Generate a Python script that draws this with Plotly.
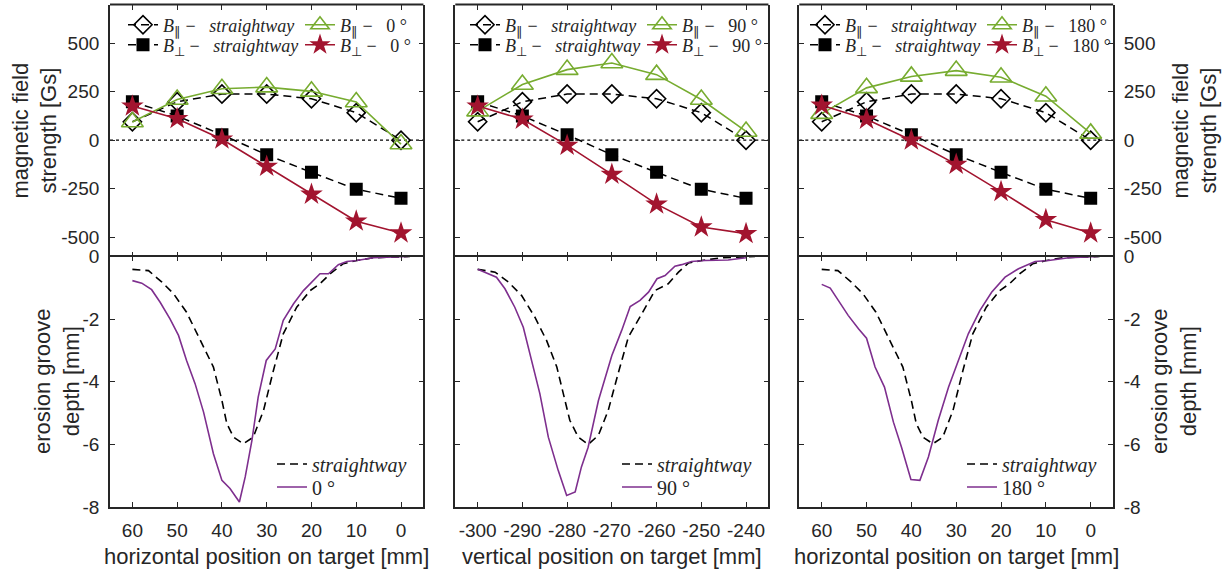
import plotly.graph_objects as go

W, H = 1224, 572

# ---------------- data ----------------
pos_horizontal = [60, 50, 40, 30, 20, 10, 0]
pos_vertical = [-300, -290, -280, -270, -260, -250, -240]

bpar_straight = [95, 198, 238, 238, 214, 142, 0]
bperp_straight = [198, 125, 28, -75, -166, -253, -300]

bpar_0 = [94, 210, 265, 274, 252, 197, -20]
bperp_0 = [176, 111, 5, -135, -279, -418, -479]

bpar_90 = [150, 287, 364, 398, 338, 210, 45]
bperp_90 = [176, 108, -27, -176, -330, -448, -482]

bpar_180 = [137, 270, 329, 359, 325, 227, 35]
bperp_180 = [180, 108, 0, -125, -265, -410, -479]

# erosion groove depth (horizontal scans)
pos_sw_h = [60, 56.4, 53.4, 50.8, 47.9, 44.9, 41.9, 40.0, 38.9, 37.4, 35.2, 33.0, 30.7,
            28.5, 26.3, 23.3, 20.3, 18.1, 15.8, 12.9, 9.9, 6.2, 0, -2]
depth_sw_h = [-0.41, -0.45, -0.82, -1.19, -1.78, -2.68, -3.53, -4.6, -5.34, -5.77, -5.98,
              -5.77, -4.91, -3.64, -2.47, -1.62, -1.09, -0.87, -0.55, -0.23, -0.13, -0.04, 0, 0]

# erosion groove depth (vertical scan)
pos_sw_v = [-300, -296.1, -293.1, -290.2, -287.2, -284.6, -282.3, -280.8, -279.4, -277.5,
            -275.3, -273.0, -270.8, -268.6, -266.3, -263.3, -260.4, -257.4, -255.1, -252.9,
            -249.9, -245.5, -240, -238]
depth_sw_v = [-0.41, -0.5, -0.82, -1.24, -1.94, -2.68, -3.53, -4.38, -5.23, -5.77, -6.0,
              -5.71, -4.91, -3.74, -2.57, -1.83, -1.09, -0.87, -0.5, -0.21, -0.13, -0.04, 0, 0]

pos_0 = [60, 57.9, 55.7, 53.8, 51.6, 49.7, 47.9, 46.0, 44.1, 41.9, 40.0, 38.2, 36.1, 34.8,
         33.3, 31.9, 30.1, 28.1, 26.3, 24.0, 21.8, 19.6, 18.1, 16.2, 14.0, 12.1, 9.9, 6.2, 0, -1.6]
depth_0 = [-0.77, -0.85, -1.06, -1.46, -1.99, -2.52, -3.32, -4.06, -4.97, -6.30, -7.15, -7.41,
           -7.84, -7.04, -5.87, -4.49, -3.32, -2.95, -2.04, -1.51, -1.09, -0.77, -0.55, -0.55,
           -0.26, -0.16, -0.13, -0.04, 0, 0]

pos_90 = [-300, -298.4, -295.8, -293.9, -291.7, -289.8, -288.0, -286.1, -284.2, -282.0,
          -280.1, -278.2, -276.8, -275.3, -273.0, -270.0, -267.8, -265.9, -263.7, -261.8,
          -259.9, -258.1, -255.9, -254.4, -252.2, -249.2, -244.0, -240]
depth_90 = [-0.41, -0.5, -0.66, -1.03, -1.62, -2.26, -3.32, -4.38, -5.77, -6.83, -7.63, -7.52,
            -6.72, -6.09, -4.60, -3.16, -2.36, -1.60, -1.40, -1.14, -0.71, -0.61, -0.31, -0.26,
            -0.16, -0.13, -0.11, -0.04]

pos_180 = [60, 58.1, 56.3, 54.1, 51.8, 50.0, 48.1, 46.0, 44.0, 42.2, 40.1, 38.1, 36.2, 34.0,
           31.7, 29.5, 27.3, 24.7, 22.1, 19.1, 16.1, 12.4, 9.4, 4.9, 0, -1.7]
depth_180 = [-0.89, -1.01, -1.40, -1.88, -2.31, -2.61, -3.53, -4.17, -5.29, -6.09, -7.12, -7.15,
             -6.40, -5.23, -4.17, -3.32, -2.47, -1.72, -1.14, -0.66, -0.39, -0.16, -0.13, -0.04, 0, 0]

angle_labels = ["0", "90", "180"]
xtick_h = [60, 50, 40, 30, 20, 10, 0]
xtick_h_text = ["60", "50", "40", "30", "20", "10", "0"]
xtick_v = [-300, -290, -280, -270, -260, -250, -240]
xtick_v_text = ["-300", "-290", "-280", "-270", "-260", "-250", "-240"]
ytick_b = [-500, -250, 0, 250, 500]
ytick_b_text = ["-500", "-250", "0", "250", "500"]
ytick_d = [-8, -6, -4, -2, 0]
ytick_d_text = ["-8", "-6", "-4", "-2", "0"]

# ---------------- style ----------------
AX = "#262626"
GREEN = "#77AC30"
RED = "#A2142F"
PURPLE = "#7E2F8E"
SANS = "Liberation Sans, Arial, sans-serif"
SERIF = "Liberation Serif, Times New Roman, serif"
NB = "\u00a0"
LW = 1.8

panel_x = [(110, 423.4), (455.3, 768.4), (799.3, 1113.1)]
top_px = (4.5, 256.5)
bot_px = (256.5, 507)


def xd(a, b):
    return [a / W, b / W]


def yd(a, b):
    return [1 - b / H, 1 - a / H]


fig = go.Figure()
legends = {}
counter = [0]


def new_legend(x_px, y_px, size):
    counter[0] += 1
    name = "legend" if counter[0] == 1 else f"legend{counter[0]}"
    legends[name] = dict(
        x=x_px / W, y=1 - y_px / H, xanchor="left", yanchor="middle",
        bgcolor="rgba(0,0,0,0)", borderwidth=0, itemwidth=30,
        font=dict(family=SERIF, size=size, color=AX), tracegroupgap=0,
    )
    return name


B_PAR = f"<i>B</i><sub>∥</sub>{NB}−{NB}{NB}{NB}"
B_PERP = f"<i>B</i><sub>⊥</sub>{NB}−{NB}{NB}{NB}"

top_data = [
    (pos_horizontal, bpar_0, bperp_0),
    (pos_vertical, bpar_90, bperp_90),
    (pos_horizontal, bpar_180, bperp_180),
]
col1_x = [123, 465, 805]
col2_x = [300, 642, 982]
row_y = [25, 45]

for i, (pos, bpar, bperp) in enumerate(top_data):
    xa = "x" if i == 0 else f"x{i + 1}"
    ya = "y" if i == 0 else f"y{i + 1}"
    ang = angle_labels[i]
    fig.add_shape(type="line", xref=f"{xa} domain", yref=ya, x0=0, x1=1, y0=0, y1=0,
                  line=dict(color="black", width=1.2, dash="dot"), layer="below")
    # top border of the upper panel (the shared boundary comes from the lower panel)
    fig.add_shape(type="line", xref=f"{xa} domain", yref=f"{ya} domain", x0=0, x1=1,
                  y0=1, y1=1, line=dict(color=AX, width=LW), layer="above")
    fig.add_trace(go.Scatter(
        x=pos, y=bpar_straight, xaxis=xa, yaxis=ya, mode="lines+markers",
        name=f"{B_PAR}<i>straightway</i>",
        line=dict(color="black", width=1.5, dash="8px,5px"),
        marker=dict(symbol="diamond-open", size=14, color="black", line=dict(width=1.6)),
        legend=new_legend(col1_x[i], row_y[0], 18)))
    fig.add_trace(go.Scatter(
        x=pos, y=bperp_straight, xaxis=xa, yaxis=ya, mode="lines+markers",
        name=f"{B_PERP}<i>straightway</i>",
        line=dict(color="black", width=1.5, dash="8px,5px"),
        marker=dict(symbol="square", size=13, color="black"),
        legend=new_legend(col1_x[i], row_y[1], 18)))
    fig.add_trace(go.Scatter(
        x=pos, y=bpar, xaxis=xa, yaxis=ya, mode="lines+markers",
        name=f"{B_PAR}{ang}{NB}°",
        line=dict(color=GREEN, width=1.6),
        marker=dict(symbol="triangle-up-open", size=19, color=GREEN, line=dict(width=1.6)),
        legend=new_legend(col2_x[i], row_y[0], 18)))
    fig.add_trace(go.Scatter(
        x=pos, y=bperp, xaxis=xa, yaxis=ya, mode="lines+markers",
        name=f"{B_PERP}{ang}{NB}°",
        line=dict(color=RED, width=1.6),
        marker=dict(symbol="star", size=17, color=RED, line=dict(width=0)),
        legend=new_legend(col2_x[i], row_y[1], 18)))

bot_data = [
    (pos_sw_h, depth_sw_h, pos_0, depth_0),
    (pos_sw_v, depth_sw_v, pos_90, depth_90),
    (pos_sw_h, depth_sw_h, pos_180, depth_180),
]
bleg_x = [272, 617, 962]
brow_y = [464, 487]
for i, (psw, dsw, pa, da) in enumerate(bot_data):
    xa = f"x{i + 4}"
    ya = f"y{i + 4}"
    fig.add_trace(go.Scatter(
        x=psw, y=dsw, xaxis=xa, yaxis=ya, mode="lines", name="<i>straightway</i>",
        line=dict(color="black", width=1.6, dash="8px,5px"),
        legend=new_legend(bleg_x[i], brow_y[0], 20)))
    fig.add_trace(go.Scatter(
        x=pa, y=da, xaxis=xa, yaxis=ya, mode="lines", name=f"{angle_labels[i]}{NB}°",
        line=dict(color=PURPLE, width=1.6),
        legend=new_legend(bleg_x[i], brow_y[1], 20)))

axis_common = dict(
    showline=True, linecolor=AX, linewidth=LW, mirror="ticks", ticks="inside",
    ticklen=5, tickwidth=1.2, tickcolor=AX, showgrid=False, zeroline=False,
    tickfont=dict(family=SANS, size=19, color=AX), automargin=False,
)

layout = dict(
    width=W, height=H, margin=dict(l=0, r=0, t=0, b=0),
    paper_bgcolor="white", plot_bgcolor="white", showlegend=True,
    font=dict(family=SANS, color=AX),
)

for i in range(3):
    xs = xd(*panel_x[i])
    horiz = i != 1
    xr = [65, -5] if horiz else [-305, -235]
    tv = xtick_h if horiz else xtick_v
    tt = xtick_h_text if horiz else xtick_v_text
    top_x = "xaxis" if i == 0 else f"xaxis{i + 1}"
    top_y = "yaxis" if i == 0 else f"yaxis{i + 1}"
    tya = "y" if i == 0 else f"y{i + 1}"
    txa = "x" if i == 0 else f"x{i + 1}"
    layout[top_x] = dict(axis_common, domain=xs, range=xr, anchor=tya, tickvals=tv,
                         ticktext=tt, showticklabels=False, showline=False)
    layout[f"xaxis{i + 4}"] = dict(axis_common, domain=xs, range=xr, anchor=f"y{i + 4}",
                                   tickvals=tv, ticktext=tt, ticklabelstandoff=5)
    side = "right" if i == 2 else "left"
    layout[top_y] = dict(axis_common, domain=yd(*top_px), range=[-600, 700], anchor=txa,
                         tickvals=ytick_b, ticktext=ytick_b_text, side=side,
                         showticklabels=(i != 1), ticklabelstandoff=5)
    layout[f"yaxis{i + 4}"] = dict(axis_common, domain=yd(*bot_px), range=[-8, 0],
                                   anchor=f"x{i + 4}", tickvals=ytick_d, ticktext=ytick_d_text,
                                   side=side, showticklabels=(i != 1), ticklabelstandoff=5)

layout.update(legends)

title_font = dict(family=SANS, size=22, color=AX)
ann = []
xt = ["horizontal position on target [mm]", "vertical position on target [mm]",
      "horizontal position on target [mm]"]
for i in range(3):
    cx = (panel_x[i][0] + panel_x[i][1]) / 2
    ann.append(dict(text=xt[i], x=cx / W, y=1 - 556 / H, xref="paper", yref="paper",
                    showarrow=False, xanchor="center", yanchor="middle", font=title_font))
ytitles = [
    ("magnetic field<br>strength [Gs]", 34, 130.5),
    ("erosion groove<br>depth [mm]", 56.5, 381.5),
    ("magnetic field<br>strength [Gs]", 1194, 130.5),
    ("erosion groove<br>depth [mm]", 1173.5, 381.5),
]
for txt, cx, cy in ytitles:
    ann.append(dict(text=txt, x=cx / W, y=1 - cy / H, xref="paper", yref="paper",
                    showarrow=False, xanchor="center", yanchor="middle", textangle=-90,
                    font=title_font))
layout["annotations"] = ann

fig.update_layout(**layout)
fig.write_html("out.html")
